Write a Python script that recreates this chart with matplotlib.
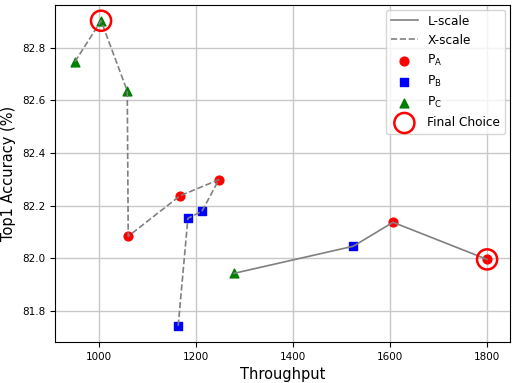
import matplotlib.pyplot as plt

# X-scale sweep (dashed), in drawing order
xs_thr = [950, 1004, 1058, 1060, 1167, 1247, 1212, 1183, 1163]
xs_acc = [82.747, 82.903, 82.636, 82.084, 82.238, 82.299, 82.179, 82.152, 81.743]
xs_type = ['C', 'C', 'C', 'A', 'A', 'A', 'B', 'B', 'B']

# L-scale sweep (solid)
ls_thr = [1278, 1524, 1606, 1800]
ls_acc = [81.943, 82.046, 82.137, 81.996]
ls_type = ['C', 'B', 'A', 'A']

# final choices
final_thr = [1004, 1800]
final_acc = [82.903, 81.996]

styles = {'A': ('red', 'o', r'$\mathrm{P_A}$'),
          'B': ('blue', 's', r'$\mathrm{P_B}$'),
          'C': ('green', '^', r'$\mathrm{P_C}$')}

fig = plt.figure(figsize=(5.14, 3.83), dpi=100)
ax = fig.add_axes([0.107, 0.107, 0.885, 0.880])

ax.plot(ls_thr, ls_acc, '-', color='gray', lw=1.2, label='L-scale', zorder=3)
ax.plot(xs_thr, xs_acc, '--', color='gray', lw=1.2, label='X-scale', zorder=3)

all_thr = xs_thr + ls_thr
all_acc = xs_acc + ls_acc
all_type = xs_type + ls_type
for key in ['A', 'B', 'C']:
    color, marker, label = styles[key]
    px = [t for t, k in zip(all_thr, all_type) if k == key]
    py = [a for a, k in zip(all_acc, all_type) if k == key]
    ax.scatter(px, py, c=color, marker=marker, s=40, label=label, zorder=2)

ax.scatter(final_thr, final_acc, s=210, facecolors='none', edgecolors='red',
           linewidths=1.8, label='Final Choice', zorder=4)

ax.set_xlim(909, 1847)
ax.set_ylim(81.682, 82.963)
ax.set_xticks([1000, 1200, 1400, 1600, 1800])
ax.set_yticks([81.8, 82.0, 82.2, 82.4, 82.6, 82.8])
ax.tick_params(labelsize=7.5)
ax.grid(True, color='#c8c8c8', lw=1)
ax.set_axisbelow(True)
ax.set_xlabel('Throughput', fontsize=10.5)
ax.set_ylabel('Top1 Accuracy (%)', fontsize=10.5)
ax.legend(loc='upper right', fontsize=8.7, borderaxespad=0.4, handlelength=2.2)

fig.savefig('out.png', dpi=100)
